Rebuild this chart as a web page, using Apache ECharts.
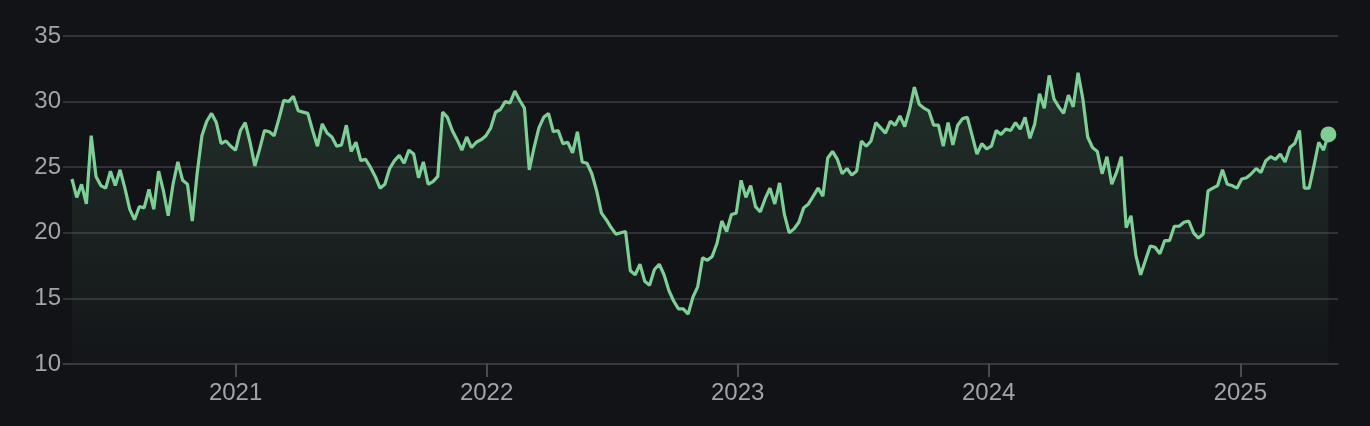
<!DOCTYPE html>
<html>
<head>
<meta charset="utf-8">
<script src="https://cdn.jsdelivr.net/npm/echarts@6/dist/echarts.min.js"></script>
<style>
html,body{margin:0;padding:0;background:#121317;}
#chart{width:1370px;height:426px;}
</style>
</head>
<body>
<div id="chart"></div>
<script>
// weekly series, first week
const startDate = '2020-05-08';
const values = [
24.1,22.7,23.7,22.2,27.4,24.3,23.6,23.4,24.7,23.6,
24.8,23.4,21.8,21.0,22.0,21.9,23.3,21.8,24.7,23.2,
21.3,23.7,25.4,24.0,23.7,20.9,24.5,27.4,28.5,29.1,
28.4,26.8,27.0,26.6,26.3,27.8,28.4,26.9,25.1,26.4,
27.8,27.7,27.4,28.7,30.1,30.0,30.4,29.3,29.2,29.1,
27.8,26.6,28.3,27.6,27.3,26.6,26.7,28.2,26.2,26.9,
25.5,25.6,25.0,24.3,23.4,23.7,24.9,25.5,25.9,25.3,
26.3,26.0,24.2,25.4,23.7,23.9,24.3,29.2,28.8,27.8,
27.1,26.3,27.3,26.5,26.9,27.1,27.4,28.0,29.2,29.4,
30.0,29.9,30.8,30.1,29.5,24.8,26.5,28.0,28.8,29.1,
27.7,27.8,26.8,26.9,26.1,27.7,25.4,25.3,24.5,23.2,
21.5,21.0,20.4,19.9,20.0,20.1,17.1,16.8,17.6,16.3,
16.0,17.2,17.6,16.8,15.6,14.8,14.2,14.2,13.8,15.1,
15.9,18.1,17.9,18.2,19.2,20.9,20.1,21.4,21.5,24.0,
22.7,23.6,22.0,21.6,22.6,23.4,22.2,23.8,21.4,20.0,
20.3,20.8,21.9,22.2,22.8,23.4,22.8,25.7,26.2,25.6,
24.5,24.9,24.4,24.7,27.0,26.6,27.0,28.4,28.0,27.6,
28.5,28.2,28.9,28.1,29.4,31.1,29.8,29.5,29.3,28.2,
28.2,26.6,28.4,26.7,28.2,28.7,28.8,27.4,26.0,26.8,
26.4,26.6,27.8,27.5,27.9,27.8,28.4,27.9,28.8,27.2,
28.3,30.6,29.5,32.0,30.2,29.6,29.1,30.5,29.6,32.2,
30.2,27.3,26.5,26.2,24.5,25.8,23.7,24.6,25.8,20.4,
21.3,18.3,16.8,17.9,19.0,18.9,18.4,19.4,19.4,20.5,
20.5,20.8,20.9,20.0,19.6,19.9,23.2,23.4,23.6,24.8,
23.7,23.6,23.4,24.1,24.2,24.5,24.9,24.6,25.5,25.8,
25.6,26.0,25.4,26.5,26.8,27.8,23.4,23.4,25.1,26.9,
26.3,27.5
];
const yTicks = [10, 15, 20, 25, 30, 35];

const DAY = 86400000;
const t0 = new Date(startDate + 'T00:00:00').getTime();
const dates = values.map((v, i) => t0 + i * 7 * DAY);
const seriesData = values.map((v, i) => [dates[i], v]);
const lastIdx = values.length - 1;

const chart = echarts.init(document.getElementById('chart'), null, {renderer: 'canvas'});
const labelColor = '#a0a4ab';
const gridColor = '#3c3d42';
const lineColor = '#7ecf95';

chart.setOption({
  backgroundColor: '#121317',
  animation: false,
  grid: {left: 63, right: 32, top: 36, bottom: 62, containLabel: false},
  xAxis: {
    type: 'time',
    min: dates[0] - 13 * DAY,
    max: dates[lastIdx] + 14 * DAY,
    minInterval: 365 * DAY,
    maxInterval: 366 * DAY,
    axisLine: {show: true, lineStyle: {color: gridColor, width: 1.5}},
    axisTick: {show: true, length: 13, lineStyle: {color: '#4a4b50', width: 2}},
    splitLine: {show: false},
    axisLabel: {
      color: labelColor, fontSize: 24, fontFamily: 'Liberation Sans, Arial, sans-serif',
      margin: 17, formatter: '{yyyy}', showMinLabel: false, showMaxLabel: false
    }
  },
  yAxis: {
    type: 'value',
    min: yTicks[0],
    max: yTicks[yTicks.length - 1],
    interval: 5,
    axisLine: {show: false},
    axisTick: {show: false},
    splitLine: {show: true, lineStyle: {color: gridColor, width: 1.5}},
    axisLabel: {
      color: labelColor, fontSize: 24, fontFamily: 'Liberation Sans, Arial, sans-serif',
      margin: 2
    }
  },
  series: [
    {
      type: 'line',
      data: seriesData,
      showSymbol: false,
      lineStyle: {color: lineColor, width: 3.2},
      itemStyle: {color: lineColor},
      areaStyle: {
        origin: 'start',
        color: new echarts.graphic.LinearGradient(0, 0, 0, 1, [
          {offset: 0, color: 'rgba(126,207,149,0.22)'},
          {offset: 1, color: 'rgba(126,207,149,0.02)'}
        ])
      },
      z: 2
    },
    {
      type: 'scatter',
      data: [seriesData[lastIdx]],
      symbol: 'circle',
      symbolSize: 16,
      itemStyle: {color: lineColor, opacity: 1},
      z: 3
    }
  ]
});
</script>
</body>
</html>
